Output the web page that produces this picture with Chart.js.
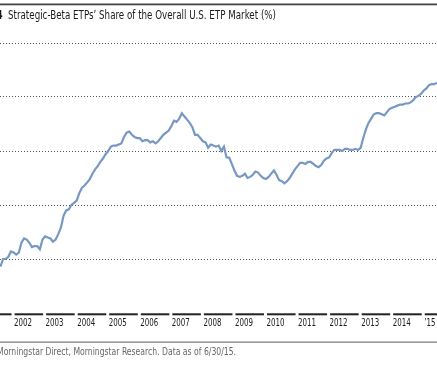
<!DOCTYPE html>
<html>
<head>
<meta charset="utf-8">
<script src="https://cdn.jsdelivr.net/npm/chart.js@4.4.1/dist/chart.umd.min.js"></script>
<style>
  html, body {margin: 0; padding: 0; background: #ffffff; overflow: hidden;}
  #wrap {width: 437px; height: 365px; position: relative;}
</style>
</head>
<body>
<div id="wrap"><canvas id="chart_share"></canvas></div>
<script>
const titleText = 'Strategic-Beta ETPs\u2019 Share of the Overall U.S. ETP Market (%)';
const exhibitNo = '4';
const sourceText = 'Morningstar Direct, Morningstar Research. Data as of 6/30/15.';

// first data point is Aug 2001, monthly through Jun 2015
const firstYear = 2001;
const firstMonth = 8;

const yearTicks = [2001, 2002, 2003, 2004, 2005, 2006, 2007, 2008, 2009, 2010, 2011, 2012, 2013, 2014, 2015];
const yearLabels = ['', '2002', '2003', '2004', '2005', '2006', '2007', '2008', '2009', '2010', '2011', '2012', '2013', '2014', '\u201915'];

// share of the overall ETP market, %
const share = [
    4.3, 5.0, 5.0, 5.2, 5.7,                                              // 2001
    5.6, 5.4, 5.6, 6.5, 6.9, 6.8, 6.5, 6.1, 6.2, 6.2, 5.9, 6.8,           // 2002
    7.1, 7.0, 6.9, 6.6, 6.8, 7.3, 7.9, 9.0, 9.5, 9.6, 10.0, 10.2,         // 2003
    10.4, 11.1, 11.6, 11.8, 12.1, 12.4, 12.9, 13.3, 13.6, 14.0, 14.3, 14.7, // 2004
    15.0, 15.4, 15.5, 15.5, 15.6, 15.7, 16.3, 16.7, 16.8, 16.5, 16.3, 16.2, // 2005
    16.2, 15.9, 16.0, 16.0, 15.8, 15.9, 15.7, 15.9, 16.2, 16.5, 16.7, 16.9, // 2006
    17.3, 17.8, 17.7, 18.0, 18.5, 18.2, 17.9, 17.6, 17.2, 16.5, 16.5, 16.2, // 2007
    15.9, 15.8, 15.3, 15.6, 15.5, 15.4, 15.5, 15.0, 15.4, 14.4, 14.4, 13.8, // 2008
    13.2, 12.7, 12.6, 12.7, 12.9, 12.5, 12.6, 12.8, 13.1, 13.0, 12.7, 12.5, // 2009
    12.4, 12.6, 12.9, 13.2, 12.8, 12.3, 12.2, 12.0, 12.2, 12.5, 12.9, 13.3, // 2010
    13.6, 13.9, 13.9, 13.8, 14.0, 14.0, 13.8, 13.6, 13.5, 13.7, 14.1, 14.3, // 2011
    14.4, 14.8, 15.1, 15.1, 15.1, 15.0, 15.2, 15.2, 15.1, 15.1, 15.2, 15.1, // 2012
    15.3, 16.2, 17.0, 17.6, 18.0, 18.4, 18.5, 18.5, 18.4, 18.3, 18.6, 18.9, // 2013
    19.0, 19.1, 19.2, 19.3, 19.3, 19.4, 19.4, 19.5, 19.7, 20.0, 20.1, 20.3, // 2014
    20.6, 20.8, 21.1, 21.2, 21.2, 21.3,                                    // 2015
];

const FONT = "'Liberation Sans Narrow', 'DejaVu Sans Condensed', 'Arial Narrow', sans-serif";

const points = share.map((v, i) => ({x: firstYear + (firstMonth - 1 + i) / 12, y: v}));

// draw text squeezed horizontally (the original uses a condensed face)
function squeezed(ctx, text, x, y, sx) {
    ctx.save();
    ctx.translate(x, y);
    ctx.scale(sx, 1);
    ctx.fillText(text, 0, 0);
    ctx.restore();
}

const frame = {
    id: 'frame',
    afterDraw(chart) {
        const ctx = chart.ctx;
        const xs = chart.scales.x;
        const w = chart.width;
        ctx.save();
        ctx.textBaseline = 'alphabetic';
        ctx.textAlign = 'left';

        // top rule + title
        ctx.fillStyle = '#444444';
        ctx.fillRect(0, 3.5, w, 1.8);
        ctx.fillStyle = '#1a1a1a';
        ctx.font = '11.5px ' + FONT;
        const sTitle = 268 / ctx.measureText(titleText).width;
        squeezed(ctx, titleText, 8, 18.5, sTitle);
        ctx.font = 'bold 11.5px ' + FONT;
        squeezed(ctx, exhibitNo, -3.5, 18.5, sTitle);

        // year bars and labels
        ctx.font = '10px ' + FONT;
        const sYear = 18 / ctx.measureText('2002').width;
        yearTicks.forEach((yr, k) => {
            const x0 = xs.getPixelForValue(yr);
            const x1 = k < yearTicks.length - 1 ? xs.getPixelForValue(yearTicks[k + 1]) - 2 : w;
            ctx.fillStyle = '#222222';
            ctx.fillRect(x0 + 1, 313.3, x1 - x0 - 1, 2);
            ctx.fillStyle = '#1a1a1a';
            squeezed(ctx, yearLabels[k], x0 + 0.5, 325.5, sYear);
        });

        // bottom rule + source
        ctx.fillStyle = '#808080';
        ctx.fillRect(0, 341.5, w, 1.3);
        ctx.fillStyle = '#666666';
        ctx.font = '10.5px ' + FONT;
        const sSrc = 239 / ctx.measureText(sourceText).width;
        squeezed(ctx, sourceText, -3, 355, sSrc);
        ctx.restore();
    },
};

new Chart(document.getElementById('chart_share'), {
    type   : 'line',
    data   : {
        datasets: [{
            data           : points,
            borderColor    : '#7798c2',
            borderWidth    : 2.2,
            pointRadius    : 0,
            tension        : 0,
            fill           : false,
        }],
    },
    options: {
        responsive         : true,
        maintainAspectRatio: false,
        animation          : false,
        layout             : {padding: {left: 0, right: 0, top: 43, bottom: 52}},
        plugins            : {
            legend : {display: false},
            tooltip: {enabled: false},
        },
        scales             : {
            x: {
                type   : 'linear',
                min    : 2001.57,
                max    : 2015.42,
                display: false,
            },
            y: {
                min    : 0,
                max    : 25,
                display: true,
                border : {display: false, dash: [1, 2]},
                ticks  : {display: false, stepSize: 5},
                afterFit(scale) { scale.width = 0; },
                grid   : {
                    drawTicks: false,
                    lineWidth: 1,
                    color    : ctx => ctx.tick && ctx.tick.value === 0 ? 'rgba(0,0,0,0)' : '#555555',
                },
            },
        },
    },
    plugins: [frame],
});
</script>
</body>
</html>
